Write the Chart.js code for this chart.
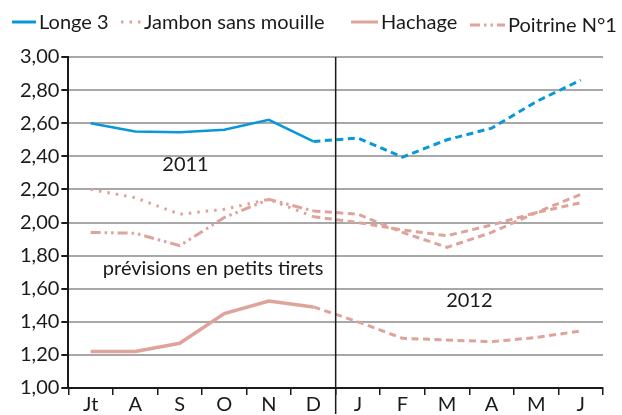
<!DOCTYPE html>
<html>
<head>
<meta charset="utf-8">
<script src="https://cdn.jsdelivr.net/npm/chart.js@4/dist/chart.umd.min.js"></script>
<style>
  html, body { margin: 0; padding: 0; background: #fff; }
  #wrap { width: 622px; height: 415px; }
</style>
</head>
<body>
<div id="wrap"><canvas id="prixChart"></canvas></div>
<script>
// months, july 2011 -> june 2012
const months = ['Jt', 'A', 'S', 'O', 'N', 'D', 'J', 'F', 'M', 'A', 'M', 'J'];
// last observed month (D), forecasts after that
const lastReal = 5;

const longe3   = [2.60, 2.55, 2.545, 2.56, 2.62, 2.49, 2.51, 2.395, 2.50, 2.57, 2.73, 2.86];
const jambon   = [2.20, 2.15, 2.05, 2.08, 2.14, 2.035, 2.00, 1.955, 1.92, 1.985, 2.06, 2.12];
const hachage  = [1.22, 1.22, 1.27, 1.45, 1.525, 1.49, 1.40, 1.30, 1.29, 1.28, 1.305, 1.345];
const poitrine = [1.94, 1.935, 1.86, 2.03, 2.14, 2.07, 2.05, 1.94, 1.85, 1.94, 2.06, 2.17];

const yTicks = [1.00, 1.20, 1.40, 1.60, 1.80, 2.00, 2.20, 2.40, 2.60, 2.80, 3.00];

const blue = '#0897d8';
const pink = '#dea39b';
const fontFamily = 'Lato, "Open Sans", sans-serif';

// split a series in real part and forecast part
function realPart(arr) {
    return arr.map((v, i) => i <= lastReal ? v : null);
}
function forecastPart(arr) {
    return arr.map((v, i) => i >= lastReal ? v : null);
}

const series = [
    { label: 'Longe 3', data: longe3, color: blue, dash: [], width: 2.5, legendX: 12, legendW: 24 },
    { label: 'Jambon sans mouille', data: jambon, color: pink, dash: [2.5, 6], width: 3, legendX: 121, legendW: 20 },
    { label: 'Hachage', data: hachage, color: pink, dash: [], width: 3.5, legendX: 351, legendW: 27 },
    { label: 'Poitrine N°1', data: poitrine, color: pink, dash: [10, 4, 2.5, 4, 2.5, 4], width: 3, legendX: 470, legendW: 35 }
];

const datasets = [];
series.forEach(s => {
    datasets.push({
        label: s.label,
        data: realPart(s.data),
        borderColor: s.color,
        backgroundColor: s.color,
        borderWidth: s.width,
        borderDash: s.dash,
        pointRadius: 0,
        tension: 0,
        spanGaps: false
    });
    datasets.push({
        label: s.label + ' (prévision)',
        data: forecastPart(s.data),
        borderColor: s.color,
        backgroundColor: s.color,
        borderWidth: 3,
        borderDash: [7, 4.5],
        pointRadius: 0,
        tension: 0,
        spanGaps: false
    });
});

// legend drawn by hand so the dash styles show
const legendPlugin = {
    id: 'handLegend',
    afterDraw(chart) {
        const ctx = chart.ctx;
        ctx.save();
        ctx.font = '20px ' + fontFamily;
        ctx.textBaseline = 'middle';
        ctx.textAlign = 'left';
        series.forEach(s => {
            const y = s.label === 'Poitrine N°1' ? 25 : 22;
            ctx.strokeStyle = s.color;
            ctx.lineWidth = 3;
            ctx.setLineDash(s.dash);
            ctx.beginPath();
            ctx.moveTo(s.legendX, y);
            ctx.lineTo(s.legendX + s.legendW, y);
            ctx.stroke();
            ctx.setLineDash([]);
            ctx.fillStyle = '#1a1a1a';
            ctx.fillText(s.label, s.legendX + s.legendW + 3, y + 1);
        });
        ctx.restore();
    }
};

// vertical separator between 2011 and 2012 + the text notes
const notesPlugin = {
    id: 'notes',
    afterDatasetsDraw(chart) {
        const ctx = chart.ctx;
        const xs = chart.scales.x;
        const ys = chart.scales.y;
        const area = chart.chartArea;
        const xSep = (xs.getPixelForValue(lastReal) + xs.getPixelForValue(lastReal + 1)) / 2;
        ctx.save();
        ctx.strokeStyle = '#1a1a1a';
        ctx.lineWidth = 1.5;
        ctx.beginPath();
        ctx.moveTo(xSep, area.top);
        ctx.lineTo(xSep, area.bottom + 26);
        ctx.stroke();

        ctx.fillStyle = '#1a1a1a';
        ctx.font = '20px ' + fontFamily;
        ctx.textAlign = 'center';
        ctx.textBaseline = 'middle';
        ctx.fillText('2011', xs.getPixelForValue(2.13), ys.getPixelForValue(2.35));
        ctx.fillText('prévisions en petits tirets', xs.getPixelForValue(2.75), ys.getPixelForValue(1.72));
        ctx.fillText('2012', xs.getPixelForValue(8.5), ys.getPixelForValue(1.53));
        ctx.restore();
    }
};

const ctx = document.getElementById('prixChart').getContext('2d');
const prixChart = new Chart(ctx, {
    type: 'line',
    data: {
        labels: months,
        datasets: datasets
    },
    options: {
        responsive: true,
        maintainAspectRatio: false,
        animation: false,
        layout: {
            padding: { left: 18, right: 19, top: 57, bottom: 0 }
        },
        plugins: {
            legend: { display: false },
            tooltip: { enabled: false }
        },
        scales: {
            x: {
                offset: true,
                grid: {
                    display: true,
                    offset: true,
                    drawOnChartArea: false,
                    drawTicks: true,
                    tickLength: 7,
                    color: '#1a1a1a',
                    lineWidth: 1.5
                },
                border: { color: '#1a1a1a', width: 2 },
                ticks: {
                    color: '#1a1a1a',
                    font: { family: fontFamily, size: 20, lineHeight: 1 },
                    padding: 0,
                    maxRotation: 0
                }
            },
            y: {
                min: 1,
                max: 3,
                afterBuildTicks: axis => {
                    axis.ticks = yTicks.map(v => ({ value: v }));
                },
                grid: {
                    color: '#a8a8a8',
                    lineWidth: 2,
                    drawTicks: true,
                    tickLength: 7,
                    tickColor: '#1a1a1a'
                },
                border: { color: '#1a1a1a', width: 2 },
                ticks: {
                    color: '#1a1a1a',
                    font: { family: fontFamily, size: 20 },
                    padding: 2,
                    callback: v => Number(v).toFixed(2).replace('.', ',')
                }
            }
        }
    },
    plugins: [notesPlugin, legendPlugin]
});
</script>
</body>
</html>
